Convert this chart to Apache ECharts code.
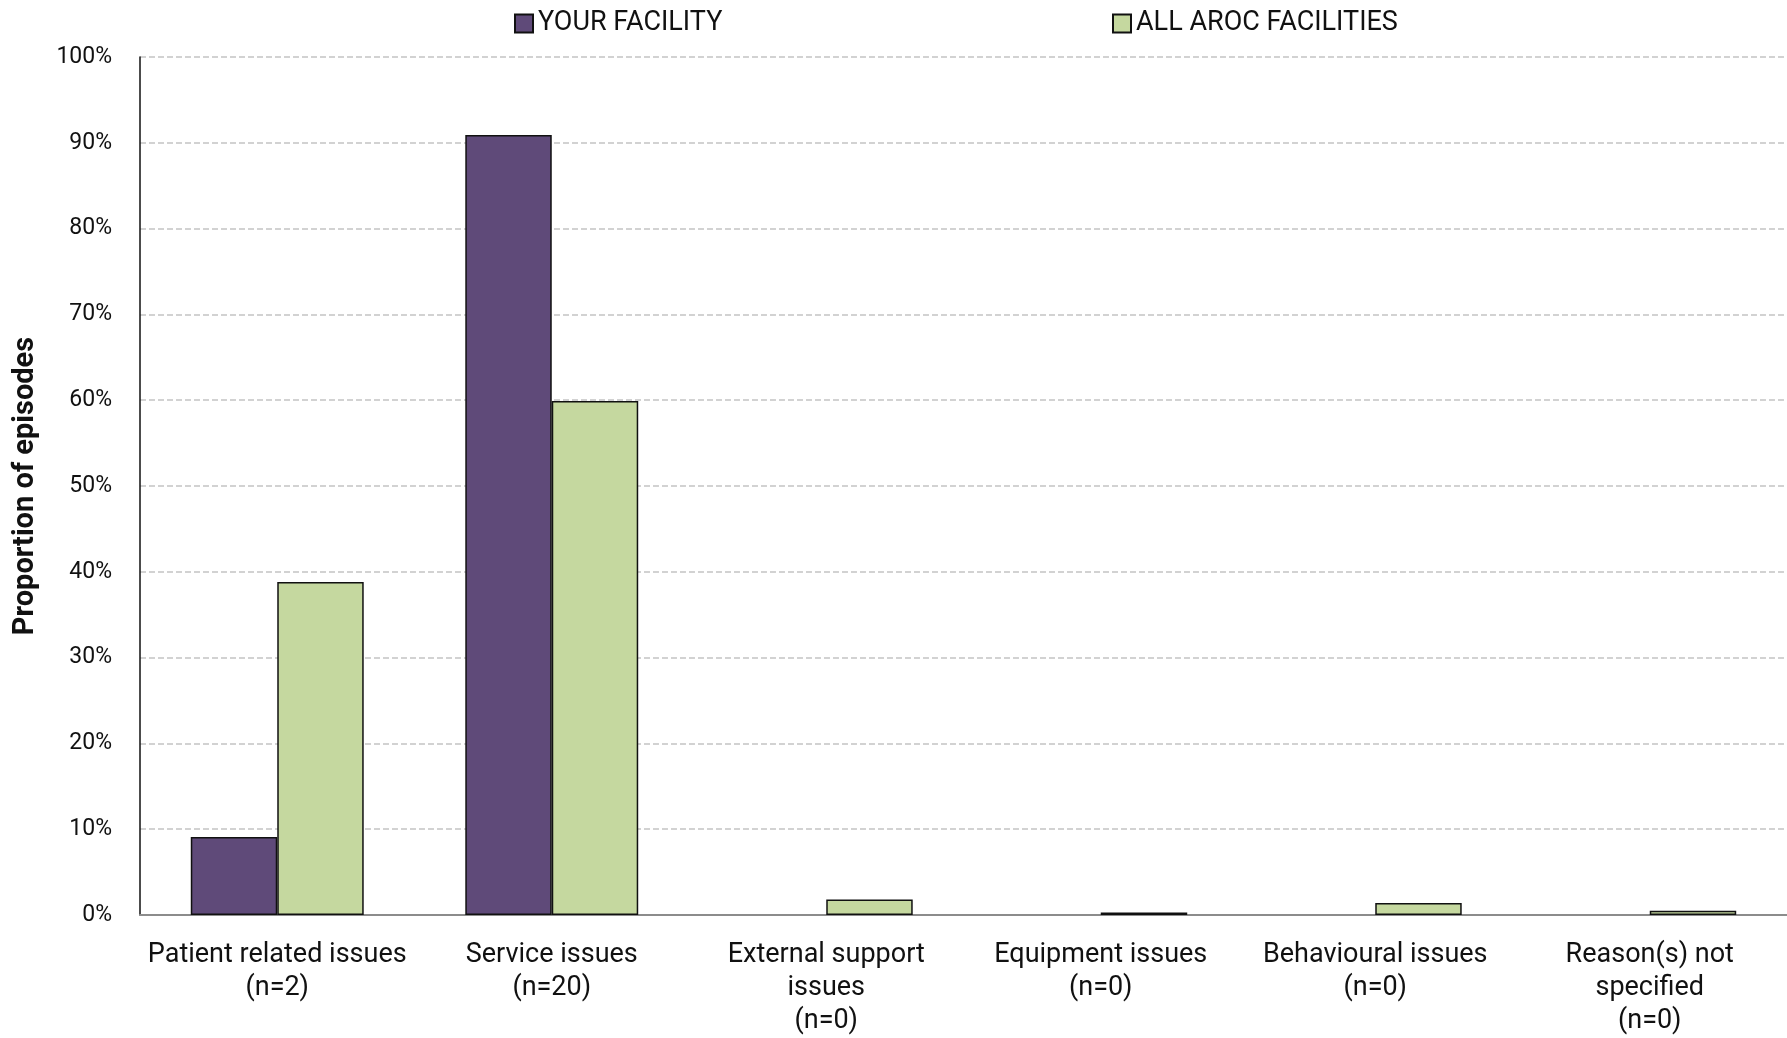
<!DOCTYPE html>
<html><head><meta charset="utf-8">
<script src="https://cdn.jsdelivr.net/npm/echarts@6/dist/echarts.min.js"></script>
<style>html,body{margin:0;padding:0;background:#fff}#c{width:1787px;height:1038px}</style>
</head><body><div id="c"></div>
<script>
const categories = ["Patient related issues\n(n=2)", "Service issues\n(n=20)", "External support\nissues\n(n=0)", "Equipment issues\n(n=0)", "Behavioural issues\n(n=0)", "Reason(s) not\nspecified\n(n=0)"];
const yourFacility = [9.1, 90.9, 0, 0, 0, 0];
const allAroc = [38.8, 59.9, 1.8, 0.3, 1.4, 0.5];
const seriesNames = ["YOUR FACILITY", "ALL AROC FACILITIES"];
const yTicks = [0, 10, 20, 30, 40, 50, 60, 70, 80, 90, 100];

const FONT = "Roboto";
const hideZero = arr => arr.map(v => v === 0 ? '-' : v);
const legendBase = {
  top: 10, padding: 0, itemWidth: 18, itemHeight: 18, icon: 'rect',
  textStyle: {fontSize: 27, color: '#111', fontFamily: FONT}
};
const chart = echarts.init(document.getElementById('c'));
chart.setOption({
  animation: false,
  textStyle: {fontFamily: FONT},
  legend: [
    Object.assign({}, legendBase, {left: 514, data: [seriesNames[0]]}),
    Object.assign({}, legendBase, {left: 1112, data: [seriesNames[1]]})
  ],
  grid: {left: 140, right: 0, top: 57, bottom: 121, containLabel: false},
  xAxis: {
    type: 'category', data: categories,
    axisLine: {lineStyle: {color: '#8c8c8c', width: 2}},
    axisTick: {show: false},
    axisLabel: {fontSize: 27, color: '#111', lineHeight: 33, margin: 24, interval: 0}
  },
  yAxis: {
    type: 'value', min: yTicks[0], max: yTicks[yTicks.length-1], interval: 10,
    name: 'Proportion of episodes', nameLocation: 'middle', nameGap: 100,
    nameTextStyle: {fontSize: 29, fontWeight: 'bold', color: '#111', fontFamily: FONT},
    axisLine: {show: true, lineStyle: {color: '#111', width: 1.5}},
    axisTick: {show: false},
    axisLabel: {fontSize: 23, color: '#111', margin: 28, formatter: v => v + '%'},
    splitLine: {lineStyle: {color: '#c4c4c4', type: [6, 3], width: 1.5}}
  },
  series: [
    {name: seriesNames[0], type: 'bar', data: hideZero(yourFacility), barGap: '0%', barCategoryGap: '37%',
     itemStyle: {color: '#5f4a79', borderColor: '#111', borderWidth: 1.5}},
    {name: seriesNames[1], type: 'bar', data: hideZero(allAroc), barGap: '0%', barCategoryGap: '37%',
     itemStyle: {color: '#c5d89f', borderColor: '#111', borderWidth: 1.5}}
  ]
});
</script></body></html>
